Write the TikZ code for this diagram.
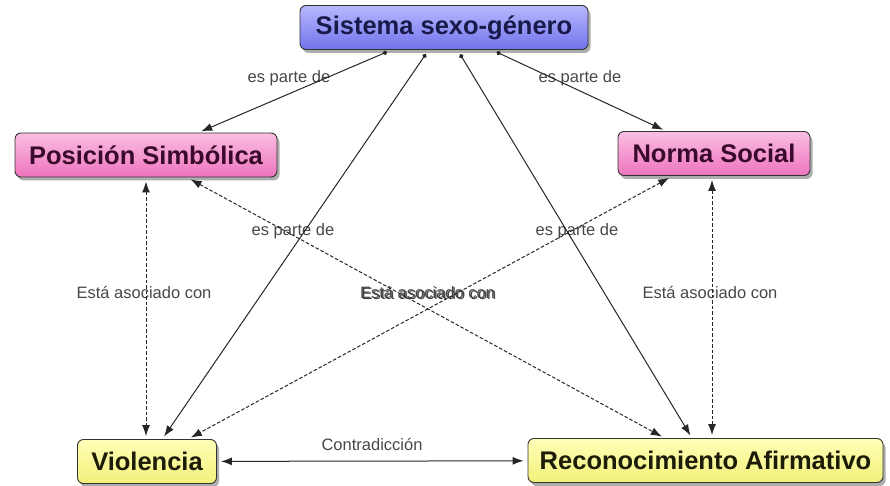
\documentclass[tikz,border=0pt]{standalone}
\usepackage{fontspec}
\setmainfont{Liberation Sans}
\usepackage{tikz}
\usetikzlibrary{arrows.meta}
\usetikzlibrary{shadows}
\usepackage{xcolor}
\definecolor{sisTop}{HTML}{B8B8FF}
\definecolor{sisBot}{HTML}{7272EC}
\definecolor{sisInk}{HTML}{1A1A4A}
\definecolor{rosTop}{HTML}{FABEE2}
\definecolor{rosBot}{HTML}{EE74BE}
\definecolor{rosInk}{HTML}{3A0A2C}
\definecolor{amaTop}{HTML}{FFFFB8}
\definecolor{amaBot}{HTML}{F2F07A}
\definecolor{amaInk}{HTML}{1C1C08}
\tikzset{concept/.style={draw=black!80, line width=0.9pt, rounded corners=6pt,
		minimum height=44pt, inner xsep=0pt,
		font=\bfseries\fontsize{25.5}{30}\selectfont,
		drop shadow={shadow xshift=2.5pt, shadow yshift=-3.5pt, opacity=0.4, fill=black!80}}}
\tikzset{top concept/.style={concept, top color=sisTop, bottom color=sisBot, text=sisInk}}
\tikzset{mid concept/.style={concept, top color=rosTop, bottom color=rosBot, text=rosInk}}
\tikzset{low concept/.style={concept, top color=amaTop, bottom color=amaBot, text=amaInk}}
\tikzset{phrase/.style={text=black!72, inner sep=0pt, font=\fontsize{16.5}{20}\selectfont}}
\tikzset{link/.style={line width=1pt, draw=black!85,
		{Circle[length=4.5pt]}-{Latex[length=11pt,width=8pt]}, shorten <=5pt, shorten >=3pt}}
\tikzset{assoc/.style={line width=1pt, draw=black!85, dash pattern=on 3.5pt off 2pt,
		{Latex[length=11pt,width=8pt]}-{Latex[length=11pt,width=8pt]}, shorten <=4pt, shorten >=3pt}}
\tikzset{clash/.style={line width=1pt, draw=black!85,
		{Latex[length=11pt,width=8pt]}-{Latex[length=11pt,width=8pt]}, shorten <=4pt, shorten >=4pt}}

\begin{document}
\begin{tikzpicture}[x=1pt, y=-1pt]
		\useasboundingbox (0,0) rectangle (890,486);

		% Concepts
		\node[top concept, minimum width=288pt] (sis) at (444,27.5) {Sistema sexo-género};
		\node[mid concept, minimum width=262pt] (pos) at (146,155) {Posición Simbólica};
		\node[mid concept, minimum width=192pt] (nor) at (714,153.5) {Norma Social};
		\node[low concept, minimum width=139pt] (vio) at (147,461.5) {Violencia};
		\node[low concept, minimum width=355pt] (rec) at (705.5,460.5) {Reconocimiento Afirmativo};

		% Linking phrases
		\node[phrase] (lpA) at (289,78) {es parte de};
		\node[phrase] (lpB) at (580,78) {es parte de};
		\node[phrase] (lpC) at (293,231) {es parte de};
		\node[phrase] (lpD) at (577,231) {es parte de};
		\node[phrase] (laA) at (144,293) {Está asociado con};
		\node[phrase] (laB) at (427.5,293) {Está asociado con};
		\node[phrase] (laC) at (429,293.5) {Está asociado con};
		\node[phrase] (laD) at (710,293) {Está asociado con};
		\node[phrase] (lct) at (372,445) {Contradicción};

		% Connectors
		\draw[link] (sis) -- (pos);
		\draw[link] (sis) -- (nor);
		\draw[link] (sis) -- (vio);
		\draw[link] (sis) -- (rec);
		\draw[assoc] (pos.south) -- (pos.south |- vio.north);
		\draw[assoc] ([xshift=-2pt]nor.south) -- ([xshift=-2pt]nor.south |- rec.north);
		\draw[assoc] (pos) -- (rec);
		\draw[assoc] (nor) -- (vio);
		\draw[clash] (vio) -- (rec);
	\end{tikzpicture}
\end{document}
